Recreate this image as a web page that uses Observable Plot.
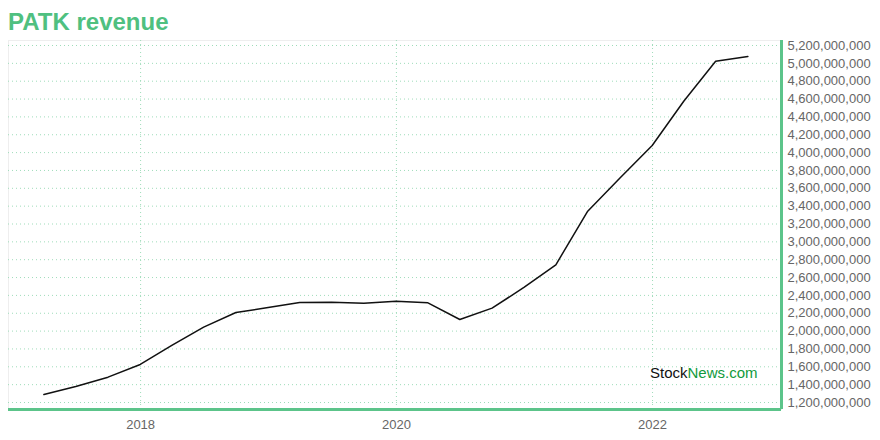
<!DOCTYPE html>
<html>
<head>
<meta charset="utf-8">
<script src="https://cdn.jsdelivr.net/npm/d3@7"></script>
<script src="https://cdn.jsdelivr.net/npm/@observablehq/plot@0.6"></script>
<style>
  body { margin: 0; background: #fff; font-family: "Liberation Sans", Arial, sans-serif; }
  #wrap { position: relative; width: 880px; height: 440px; }
  #title { height: 32px; padding-left: 8px; box-sizing: border-box; font-size: 24px; font-weight: bold; color: #4fc080; line-height: 44px; overflow: visible; }
  #mark { position: absolute; left: 650px; top: 364px; font-size: 15px; color: #111; }
  #mark span { color: #119a3c; }
</style>
</head>
<body>
<div id="wrap">
  <div id="title">PATK revenue</div>
  <div id="chart"></div>
  <div id="mark">Stock<span>News.com</span></div>
</div>
<script>
const dates = ["2017-03-31","2017-06-30","2017-09-30","2017-12-31","2018-03-31","2018-06-30","2018-09-30","2018-12-31","2019-03-31","2019-06-30","2019-09-30","2019-12-31","2020-03-31","2020-06-30","2020-09-30","2020-12-31","2021-03-31","2021-06-30","2021-09-30","2021-12-31","2022-03-31","2022-06-30","2022-09-30"];
const revenue = [1.290e9,1.379e9,1.484e9,1.626e9,1.839e9,2.044e9,2.208e9,2.264e9,2.320e9,2.324e9,2.313e9,2.335e9,2.317e9,2.130e9,2.257e9,2.492e9,2.743e9,3.343e9,3.715e9,4.080e9,4.575e9,5.024e9,5.077e9];
const yTicks = d3.range(1.2e9, 5.2e9 + 1, 2e8);
const xTicks = ["2018-01-01","2020-01-01","2022-01-01"].map(d => new Date(d));
const xDomain = [new Date("2016-12-20"), new Date("2023-01-04")];
const yDomain = [1.1216e9, 5.256e9];

const data = dates.map((d, i) => ({date: new Date(d), value: revenue[i]}));
const green = "#5cc48a";
const gridColor = "#9fdcba";

const chart = Plot.plot({
  width: 880,
  height: 408,
  marginLeft: 8,
  marginRight: 99,
  marginTop: 8,
  marginBottom: 31,
  style: { fontFamily: "Liberation Sans, Arial, sans-serif", fontSize: "13px", color: "#666", background: "#fff" },
  x: { type: "utc", domain: xDomain, ticks: xTicks, tickFormat: d3.utcFormat("%Y"), tickSize: 0, tickPadding: 10, label: null },
  y: { domain: yDomain, axis: "right", ticks: yTicks, tickFormat: d3.format(","), tickSize: 0, tickPadding: 6, label: null },
  marks: [
    Plot.frame({ stroke: "#eeeeee" }),
    Plot.gridY(yTicks, { stroke: gridColor, strokeOpacity: 1, strokeDasharray: "1,3" }),
    Plot.gridX(xTicks, { stroke: gridColor, strokeOpacity: 1, strokeDasharray: "1,3" }),
    Plot.line(data, { x: "date", y: "value", stroke: "#111", strokeWidth: 1.5 }),
    Plot.ruleY([yDomain[0]], { stroke: green, strokeWidth: 3 }),
    Plot.ruleX([xDomain[1]], { stroke: green, strokeWidth: 3 })
  ]
});
document.getElementById("chart").appendChild(chart);
</script>
</body>
</html>
